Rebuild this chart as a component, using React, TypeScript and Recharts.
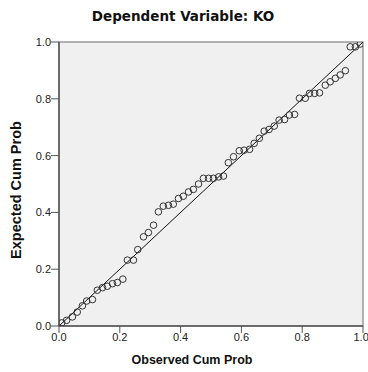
import { ReferenceArea, ReferenceLine, Scatter, ScatterChart, XAxis, YAxis } from "recharts";

// observed vs expected cumulative probability (P-P plot of residuals)
const observed = [
  0.009, 0.025, 0.044, 0.06, 0.077, 0.091, 0.11, 0.126, 0.143, 0.159, 0.176, 0.192, 0.21,
  0.225, 0.245, 0.259, 0.278, 0.294, 0.311, 0.327, 0.343, 0.36, 0.376, 0.393, 0.409, 0.426,
  0.442, 0.459, 0.475, 0.492, 0.508, 0.525, 0.541, 0.557, 0.574, 0.593, 0.609, 0.627, 0.642,
  0.659, 0.675, 0.691, 0.708, 0.724, 0.742, 0.758, 0.775, 0.791, 0.81, 0.824, 0.841, 0.857,
  0.876, 0.892, 0.909, 0.925, 0.942, 0.958, 0.975, 0.991,
];
const expected = [
  0.011, 0.02, 0.032, 0.049, 0.071, 0.088, 0.093, 0.126, 0.135, 0.14, 0.149, 0.153, 0.165,
  0.232, 0.232, 0.269, 0.314, 0.329, 0.355, 0.402, 0.422, 0.425, 0.429, 0.449, 0.457, 0.472,
  0.481, 0.5, 0.52, 0.52, 0.52, 0.525, 0.528, 0.575, 0.596, 0.617, 0.619, 0.622, 0.643,
  0.661, 0.686, 0.692, 0.704, 0.725, 0.727, 0.743, 0.745, 0.802, 0.802, 0.819, 0.819, 0.821,
  0.848, 0.86, 0.872, 0.884, 0.899, 0.983, 0.983, 0.993,
];
const ticks = [0, 0.2, 0.4, 0.6, 0.8, 1];

const points = observed.map((x, i) => ({ x, y: expected[i] }));

const tickStyle = { fill: "#222", fontSize: 11, fontFamily: "Liberation Sans, Arial, sans-serif" };

function OpenCircle(props: any) {
  return <circle cx={props.cx} cy={props.cy} r={3.3} fill="none" stroke="#333" strokeWidth={1} />;
}

export default function App() {
  return (
    <div style={{ position: "absolute", left: 0, top: 0, width: 368, height: 372, background: "#fff" }}>
      <ScatterChart width={368} height={372} margin={{ top: 42, right: 5, bottom: 0, left: 0 }}>
        <ReferenceArea x1={0} x2={1} y1={0} y2={1} fill="#f0f0f0" fillOpacity={1} stroke="#999" strokeWidth={1.5} />
        <XAxis
          type="number"
          dataKey="x"
          domain={[0, 1]}
          ticks={ticks}
          tickFormatter={(v: number) => v.toFixed(1)}
          tick={tickStyle}
          tickSize={7}
          tickMargin={0}
          height={46}
          axisLine={{ stroke: "#555", strokeWidth: 1.5 }}
          tickLine={{ stroke: "#555" }}
          allowDataOverflow
        />
        <YAxis
          type="number"
          dataKey="y"
          domain={[0, 1]}
          ticks={ticks}
          tickFormatter={(v: number) => v.toFixed(1)}
          tick={tickStyle}
          tickSize={8}
          tickMargin={0}
          width={59}
          axisLine={{ stroke: "#555", strokeWidth: 1.5 }}
          tickLine={{ stroke: "#555" }}
          allowDataOverflow
        />
        <ReferenceLine
          segment={[
            { x: 0, y: 0 },
            { x: 1, y: 1 },
          ]}
          stroke="#111"
          strokeWidth={1}
        />
        <Scatter data={points} shape={OpenCircle} isAnimationActive={false} />
      </ScatterChart>
      <div
        style={{
          position: "absolute",
          left: 0,
          top: 8,
          width: 366,
          textAlign: "center",
          fontFamily: "DejaVu Sans, sans-serif",
          fontWeight: "bold",
          fontSize: 13.5,
          color: "#111",
        }}
      >
        Dependent Variable: KO
      </div>
      <div
        style={{
          position: "absolute",
          left: 92,
          top: 353,
          width: 200,
          textAlign: "center",
          fontFamily: "Liberation Sans, Arial, sans-serif",
          fontWeight: "bold",
          fontSize: 12.5,
          color: "#111",
        }}
      >
        Observed Cum Prob
      </div>
      <div
        style={{
          position: "absolute",
          left: 16,
          top: 190,
          width: 200,
          transform: "translate(-50%, -50%) rotate(-90deg)",
          textAlign: "center",
          fontFamily: "Liberation Sans, Arial, sans-serif",
          fontWeight: "bold",
          fontSize: 14.5,
          color: "#111",
        }}
      >
        Expected Cum Prob
      </div>
    </div>
  );
}
